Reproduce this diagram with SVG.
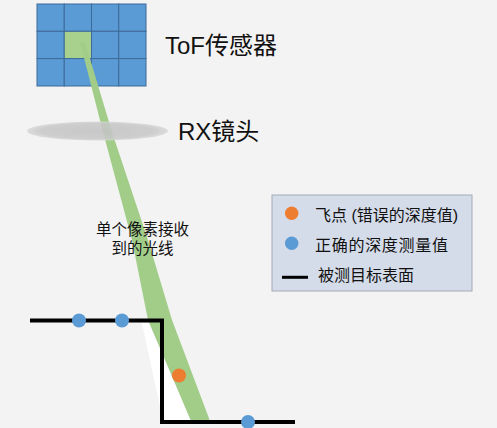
<svg xmlns="http://www.w3.org/2000/svg" width="497" height="428" viewBox="0 0 497 428">
<defs>
<style>
.t{font-family:"Liberation Sans","Noto Sans CJK SC",sans-serif;fill:#111}
.cell{fill:#5b9bd5;stroke:#3d6a99;stroke-width:1}
.surf{fill:none;stroke:#000;stroke-width:4;stroke-linejoin:miter}
.blue{fill:#5b9bd5}
.orange{fill:#ed7d31}
</style>
<radialGradient id="lensg" cx="0.5" cy="0.5" r="0.5">
<stop offset="0" stop-color="#c2c2c2"/>
<stop offset="0.8" stop-color="#c8c8c8"/>
<stop offset="1" stop-color="#d8d8d8"/>
</radialGradient>
</defs>
<rect width="497" height="428" fill="#f3f3f3"/>

<g id="sensor">
<rect class="cell" x="37" y="4" width="27.25" height="27.3"/>
<rect class="cell" x="64.25" y="4" width="27.25" height="27.3"/>
<rect class="cell" x="91.5" y="4" width="27.25" height="27.3"/>
<rect class="cell" x="118.75" y="4" width="27.25" height="27.3"/>
<rect class="cell" x="37" y="31.3" width="27.25" height="27.3"/>
<rect x="64.25" y="31.3" width="27.25" height="27.3" fill="#a9d18e" stroke="#3d6a99" stroke-width="1"/>
<rect class="cell" x="91.5" y="31.3" width="27.25" height="27.3"/>
<rect class="cell" x="118.75" y="31.3" width="27.25" height="27.3"/>
<rect class="cell" x="37" y="58.6" width="27.25" height="27.4"/>
<rect class="cell" x="64.25" y="58.6" width="27.25" height="27.4"/>
<rect class="cell" x="91.5" y="58.6" width="27.25" height="27.4"/>
<rect class="cell" x="118.75" y="58.6" width="27.25" height="27.4"/>
<text class="t" x="165" y="54" font-size="24">ToF传感器</text>
</g>

<g id="shadow">
<polygon points="142,323 149,323 191,421 163,421" fill="#ffffff"/>
</g>

<g id="beam">
<polygon points="80,42 85,42 112,132 148,240 172,320 210,421 191,421 148,320 132,240 103,132" fill="#a2cd89"/>
</g>

<g id="lens">
<ellipse cx="97.5" cy="131" rx="70.5" ry="9.5" fill="url(#lensg)" fill-opacity="0.88"/>
<text class="t" x="178" y="140" font-size="24">RX镜头</text>
</g>

<g id="beam-label">
<text class="t" x="142.5" y="234.5" font-size="15.5" text-anchor="middle" fill="#222">单个像素接收</text>
<text class="t" x="142.5" y="253.5" font-size="15.5" text-anchor="middle" fill="#222">到的光线</text>
</g>

<g id="target-surface">
<polyline class="surf" points="30,320.5 162,320.5 162,422 295,422"/>
</g>

<g id="points">
<circle class="blue" cx="79" cy="320.5" r="7"/>
<circle class="blue" cx="122" cy="320.5" r="7"/>
<circle class="blue" cx="248" cy="422" r="7"/>
<circle class="orange" cx="179" cy="375.5" r="7"/>
</g>

<g id="legend">
<rect x="272" y="195" width="200" height="96" fill="#d4dbe9" stroke="#a3abb8" stroke-width="1"/>
<circle class="orange" cx="291.7" cy="213.3" r="6.7"/>
<text class="t" x="315" y="220.5" font-size="16">飞点 (错误的深度值)</text>
<circle class="blue" cx="291.7" cy="243.3" r="6.7"/>
<text class="t" x="315" y="250.5" font-size="16" textLength="133" lengthAdjust="spacing">正确的深度测量值</text>
<line x1="282" y1="277.3" x2="308" y2="277.3" stroke="#000" stroke-width="3"/>
<text class="t" x="318" y="281" font-size="16">被测目标表面</text>
</g>
</svg>
